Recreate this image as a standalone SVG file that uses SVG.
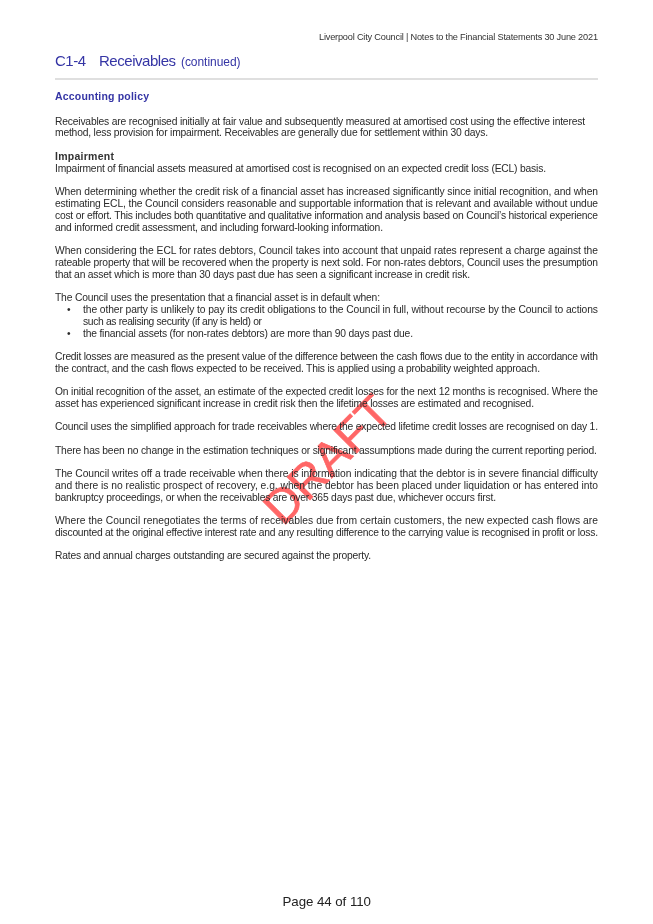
<svg xmlns="http://www.w3.org/2000/svg" width="653" height="924" viewBox="0 0 653 924">
<style>
text{font-family:"Liberation Sans",Arial,sans-serif}
.b{font-size:10.300px;fill:#2a2a2a}
.h{font-size:10.500px;font-weight:bold}
.t{fill:#3535a5}
</style>
<defs><filter id="soft" x="0" y="0" width="100%" height="100%"><feGaussianBlur stdDeviation="0.25"/></filter></defs>
<rect width="653" height="924" fill="#fff"/>
<g filter="url(#soft)">
<g id="watermark">
<text x="0" y="0" transform="translate(283 527) rotate(-45)" font-size="47.500" fill="#f66" stroke="#f66" stroke-width=".6">DRAFT</text>
</g>
<g id="header">
<text x="319" y="40" font-size="9.200" fill="#333" textLength="279">Liverpool City Council | Notes to the Financial Statements 30 June 2021</text>
<text class="t" x="55" y="66" font-size="15" textLength="31">C1-4</text>
<text class="t" x="99" y="66" font-size="15" textLength="77">Receivables</text>
<text class="t" x="181" y="66" font-size="12" textLength="59.500">(continued)</text>
<line x1="55" y1="79" x2="598" y2="79" stroke="#d4d4d4" stroke-width="1.3"/>
<text class="h t" x="55" y="100" textLength="94">Accounting policy</text>
</g>
<g id="body">
<text class="b" x="55" y="125" textLength="530">Receivables are recognised initially at fair value and subsequently measured at amortised cost using the effective interest</text>
<text class="b" x="55" y="136" textLength="433">method, less provision for impairment. Receivables are generally due for settlement within 30 days.</text>
<text class="h" fill="#333" x="55" y="160" textLength="59">Impairment</text>
<text class="b" x="55" y="172" textLength="491">Impairment of financial assets measured at amortised cost is recognised on an expected credit loss (ECL) basis.</text>
<text class="b" x="55" y="195" textLength="543">When determining whether the credit risk of a financial asset has increased significantly since initial recognition, and when</text>
<text class="b" x="55" y="207" textLength="543">estimating ECL, the Council considers reasonable and supportable information that is relevant and available without undue</text>
<text class="b" x="55" y="219" textLength="543">cost or effort. This includes both quantitative and qualitative information and analysis based on Council’s historical experience</text>
<text class="b" x="55" y="231" textLength="328">and informed credit assessment, and including forward-looking information.</text>
<text class="b" x="55" y="254" textLength="543">When considering the ECL for rates debtors, Council takes into account that unpaid rates represent a charge against the</text>
<text class="b" x="55" y="266" textLength="543">rateable property that will be recovered when the property is next sold. For non-rates debtors, Council uses the presumption</text>
<text class="b" x="55" y="278" textLength="415">that an asset which is more than 30 days past due has seen a significant increase in credit risk.</text>
<text class="b" x="55" y="301" textLength="325">The Council uses the presentation that a financial asset is in default when:</text>
<text class="b" x="67" y="313">•</text>
<text class="b" x="83" y="313" textLength="515">the other party is unlikely to pay its credit obligations to the Council in full, without recourse by the Council to actions</text>
<text class="b" x="83" y="325" textLength="179">such as realising security (if any is held) or</text>
<text class="b" x="67" y="337">•</text>
<text class="b" x="83" y="337" textLength="330">the financial assets (for non-rates debtors) are more than 90 days past due.</text>
<text class="b" x="55" y="360" textLength="543">Credit losses are measured as the present value of the difference between the cash flows due to the entity in accordance with</text>
<text class="b" x="55" y="372" textLength="485">the contract, and the cash flows expected to be received. This is applied using a probability weighted approach.</text>
<text class="b" x="55" y="395" textLength="543">On initial recognition of the asset, an estimate of the expected credit losses for the next 12 months is recognised. Where the</text>
<text class="b" x="55" y="407" textLength="479">asset has experienced significant increase in credit risk then the lifetime losses are estimated and recognised.</text>
<text class="b" x="55" y="430" textLength="543">Council uses the simplified approach for trade receivables where the expected lifetime credit losses are recognised on day 1.</text>
<text class="b" x="55" y="454" textLength="542">There has been no change in the estimation techniques or significant assumptions made during the current reporting period.</text>
<text class="b" x="55" y="477" textLength="543">The Council writes off a trade receivable when there is information indicating that the debtor is in severe financial difficulty</text>
<text class="b" x="55" y="489" textLength="543">and there is no realistic prospect of recovery, e.g. when the debtor has been placed under liquidation or has entered into</text>
<text class="b" x="55" y="501" textLength="441">bankruptcy proceedings, or when the receivables are over 365 days past due, whichever occurs first.</text>
<text class="b" x="55" y="524" textLength="543">Where the Council renegotiates the terms of receivables due from certain customers, the new expected cash flows are</text>
<text class="b" x="55" y="536" textLength="543">discounted at the original effective interest rate and any resulting difference to the carrying value is recognised in profit or loss.</text>
<text class="b" x="55" y="559" textLength="316">Rates and annual charges outstanding are secured against the property.</text>
</g>
<g id="footer">
<text x="282.500" y="906" font-size="13.300" fill="#222" textLength="88.500">Page 44 of 110</text>
</g>
</g>
</svg>
